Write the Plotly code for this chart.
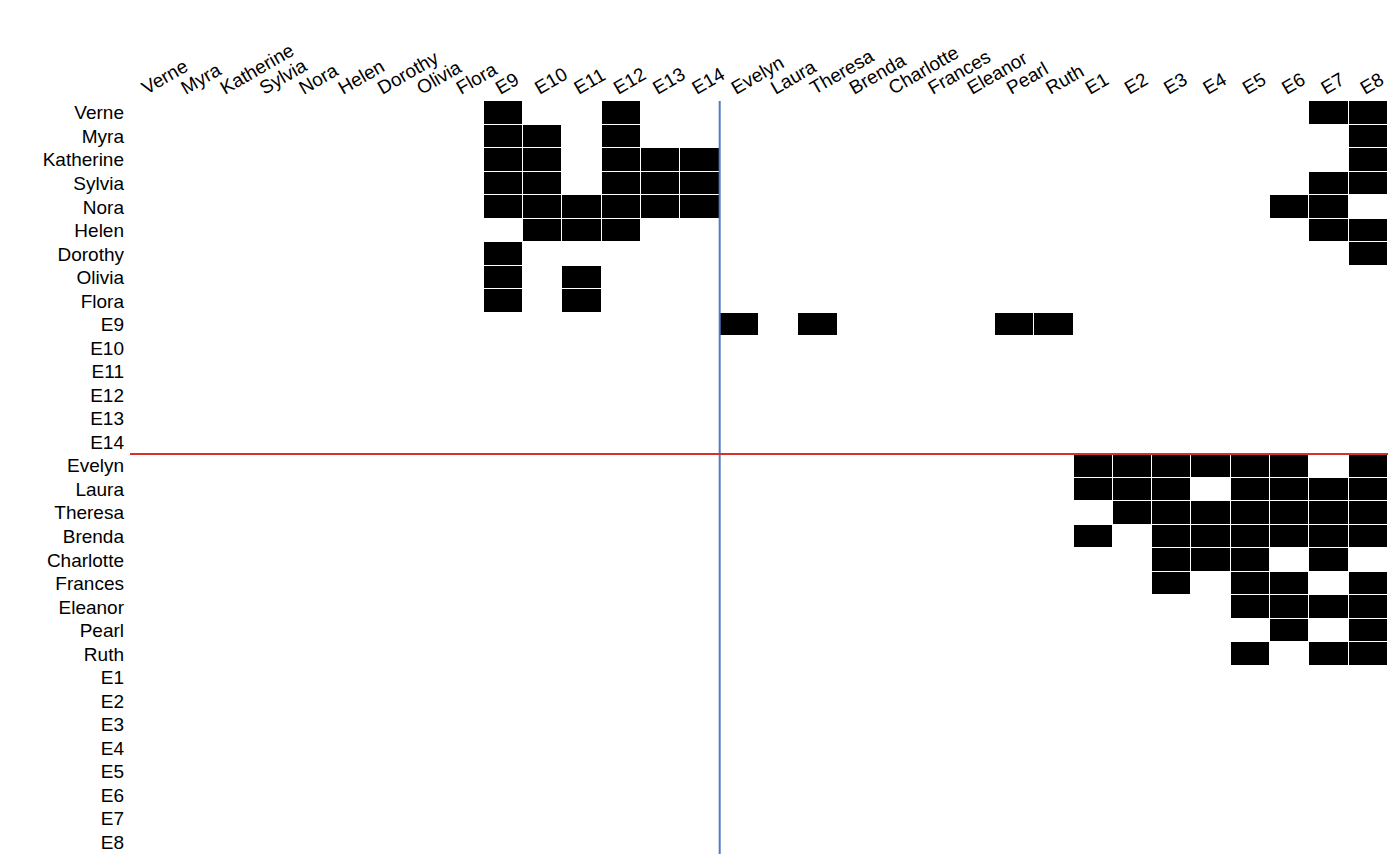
import plotly.graph_objects as go

upper_women = ["Verne", "Myra", "Katherine", "Sylvia", "Nora", "Helen", "Dorothy", "Olivia", "Flora"]
events_late = ["E9", "E10", "E11", "E12", "E13", "E14"]
lower_women = ["Evelyn", "Laura", "Theresa", "Brenda", "Charlotte", "Frances", "Eleanor", "Pearl", "Ruth"]
events_early = ["E1", "E2", "E3", "E4", "E5", "E6", "E7", "E8"]

upper_attendance = {
    "Verne": ["E7", "E8", "E9", "E12"],
    "Myra": ["E8", "E9", "E10", "E12"],
    "Katherine": ["E8", "E9", "E10", "E12", "E13", "E14"],
    "Sylvia": ["E7", "E8", "E9", "E10", "E12", "E13", "E14"],
    "Nora": ["E6", "E7", "E9", "E10", "E11", "E12", "E13", "E14"],
    "Helen": ["E7", "E8", "E10", "E11", "E12"],
    "Dorothy": ["E8", "E9"],
    "Olivia": ["E9", "E11"],
    "Flora": ["E9", "E11"],
}
lower_attendance = {
    "Evelyn": ["E1", "E2", "E3", "E4", "E5", "E6", "E8"],
    "Laura": ["E1", "E2", "E3", "E5", "E6", "E7", "E8"],
    "Theresa": ["E2", "E3", "E4", "E5", "E6", "E7", "E8"],
    "Brenda": ["E1", "E3", "E4", "E5", "E6", "E7", "E8"],
    "Charlotte": ["E3", "E4", "E5", "E7"],
    "Frances": ["E3", "E5", "E6", "E8"],
    "Eleanor": ["E5", "E6", "E7", "E8"],
    "Pearl": ["E6", "E8"],
    "Ruth": ["E5", "E7", "E8"],
}
e9_attendees = ["Evelyn", "Theresa", "Pearl", "Ruth"]

order = upper_women + events_late + lower_women + events_early
idx = {name: i for i, name in enumerate(order)}
n = len(order)

z = [[None] * n for _ in range(n)]
for w, evs in upper_attendance.items():
    for e in evs:
        z[idx[w]][idx[e]] = 1
for w, evs in lower_attendance.items():
    for e in evs:
        z[idx[w]][idx[e]] = 1
for w in e9_attendees:
    z[idx["E9"]][idx[w]] = 1

split = len(upper_women) + len(events_late) - 0.5

fig = go.Figure(go.Heatmap(
    z=z, x=list(range(n)), y=list(range(n)),
    colorscale=[[0, "black"], [1, "black"]], showscale=False,
    xgap=1, ygap=1, hoverinfo="skip",
))

font = dict(family="Liberation Sans, Arial, Helvetica, sans-serif", size=19, color="black")

fig.update_layout(
    width=1400, height=866,
    margin=dict(l=130, r=12, t=101, b=12),
    paper_bgcolor="white", plot_bgcolor="white",
    xaxis=dict(side="top", tickmode="array", tickvals=list(range(n)), ticktext=order,
               tickangle=-30, range=[-0.5, n - 0.5], showgrid=False, zeroline=False,
               showline=False, ticks="", tickfont=font, automargin=False,
               ticklabelshift=-8),
    yaxis=dict(tickmode="array", tickvals=list(range(n)), ticktext=order,
               range=[n - 0.5, -0.5], showgrid=False, zeroline=False,
               showline=False, ticks="", tickfont=font, automargin=False,
               ticklabelstandoff=5),
    shapes=[
        dict(type="line", xref="x", yref="y", x0=split, x1=split, y0=-0.5, y1=n - 0.5,
             line=dict(color="#4f7cc4", width=2)),
        dict(type="line", xref="x", yref="y", x0=-0.5, x1=n - 0.5, y0=split, y1=split,
             line=dict(color="#d9302c", width=2)),
    ],
)

fig.write_html("out.html")
